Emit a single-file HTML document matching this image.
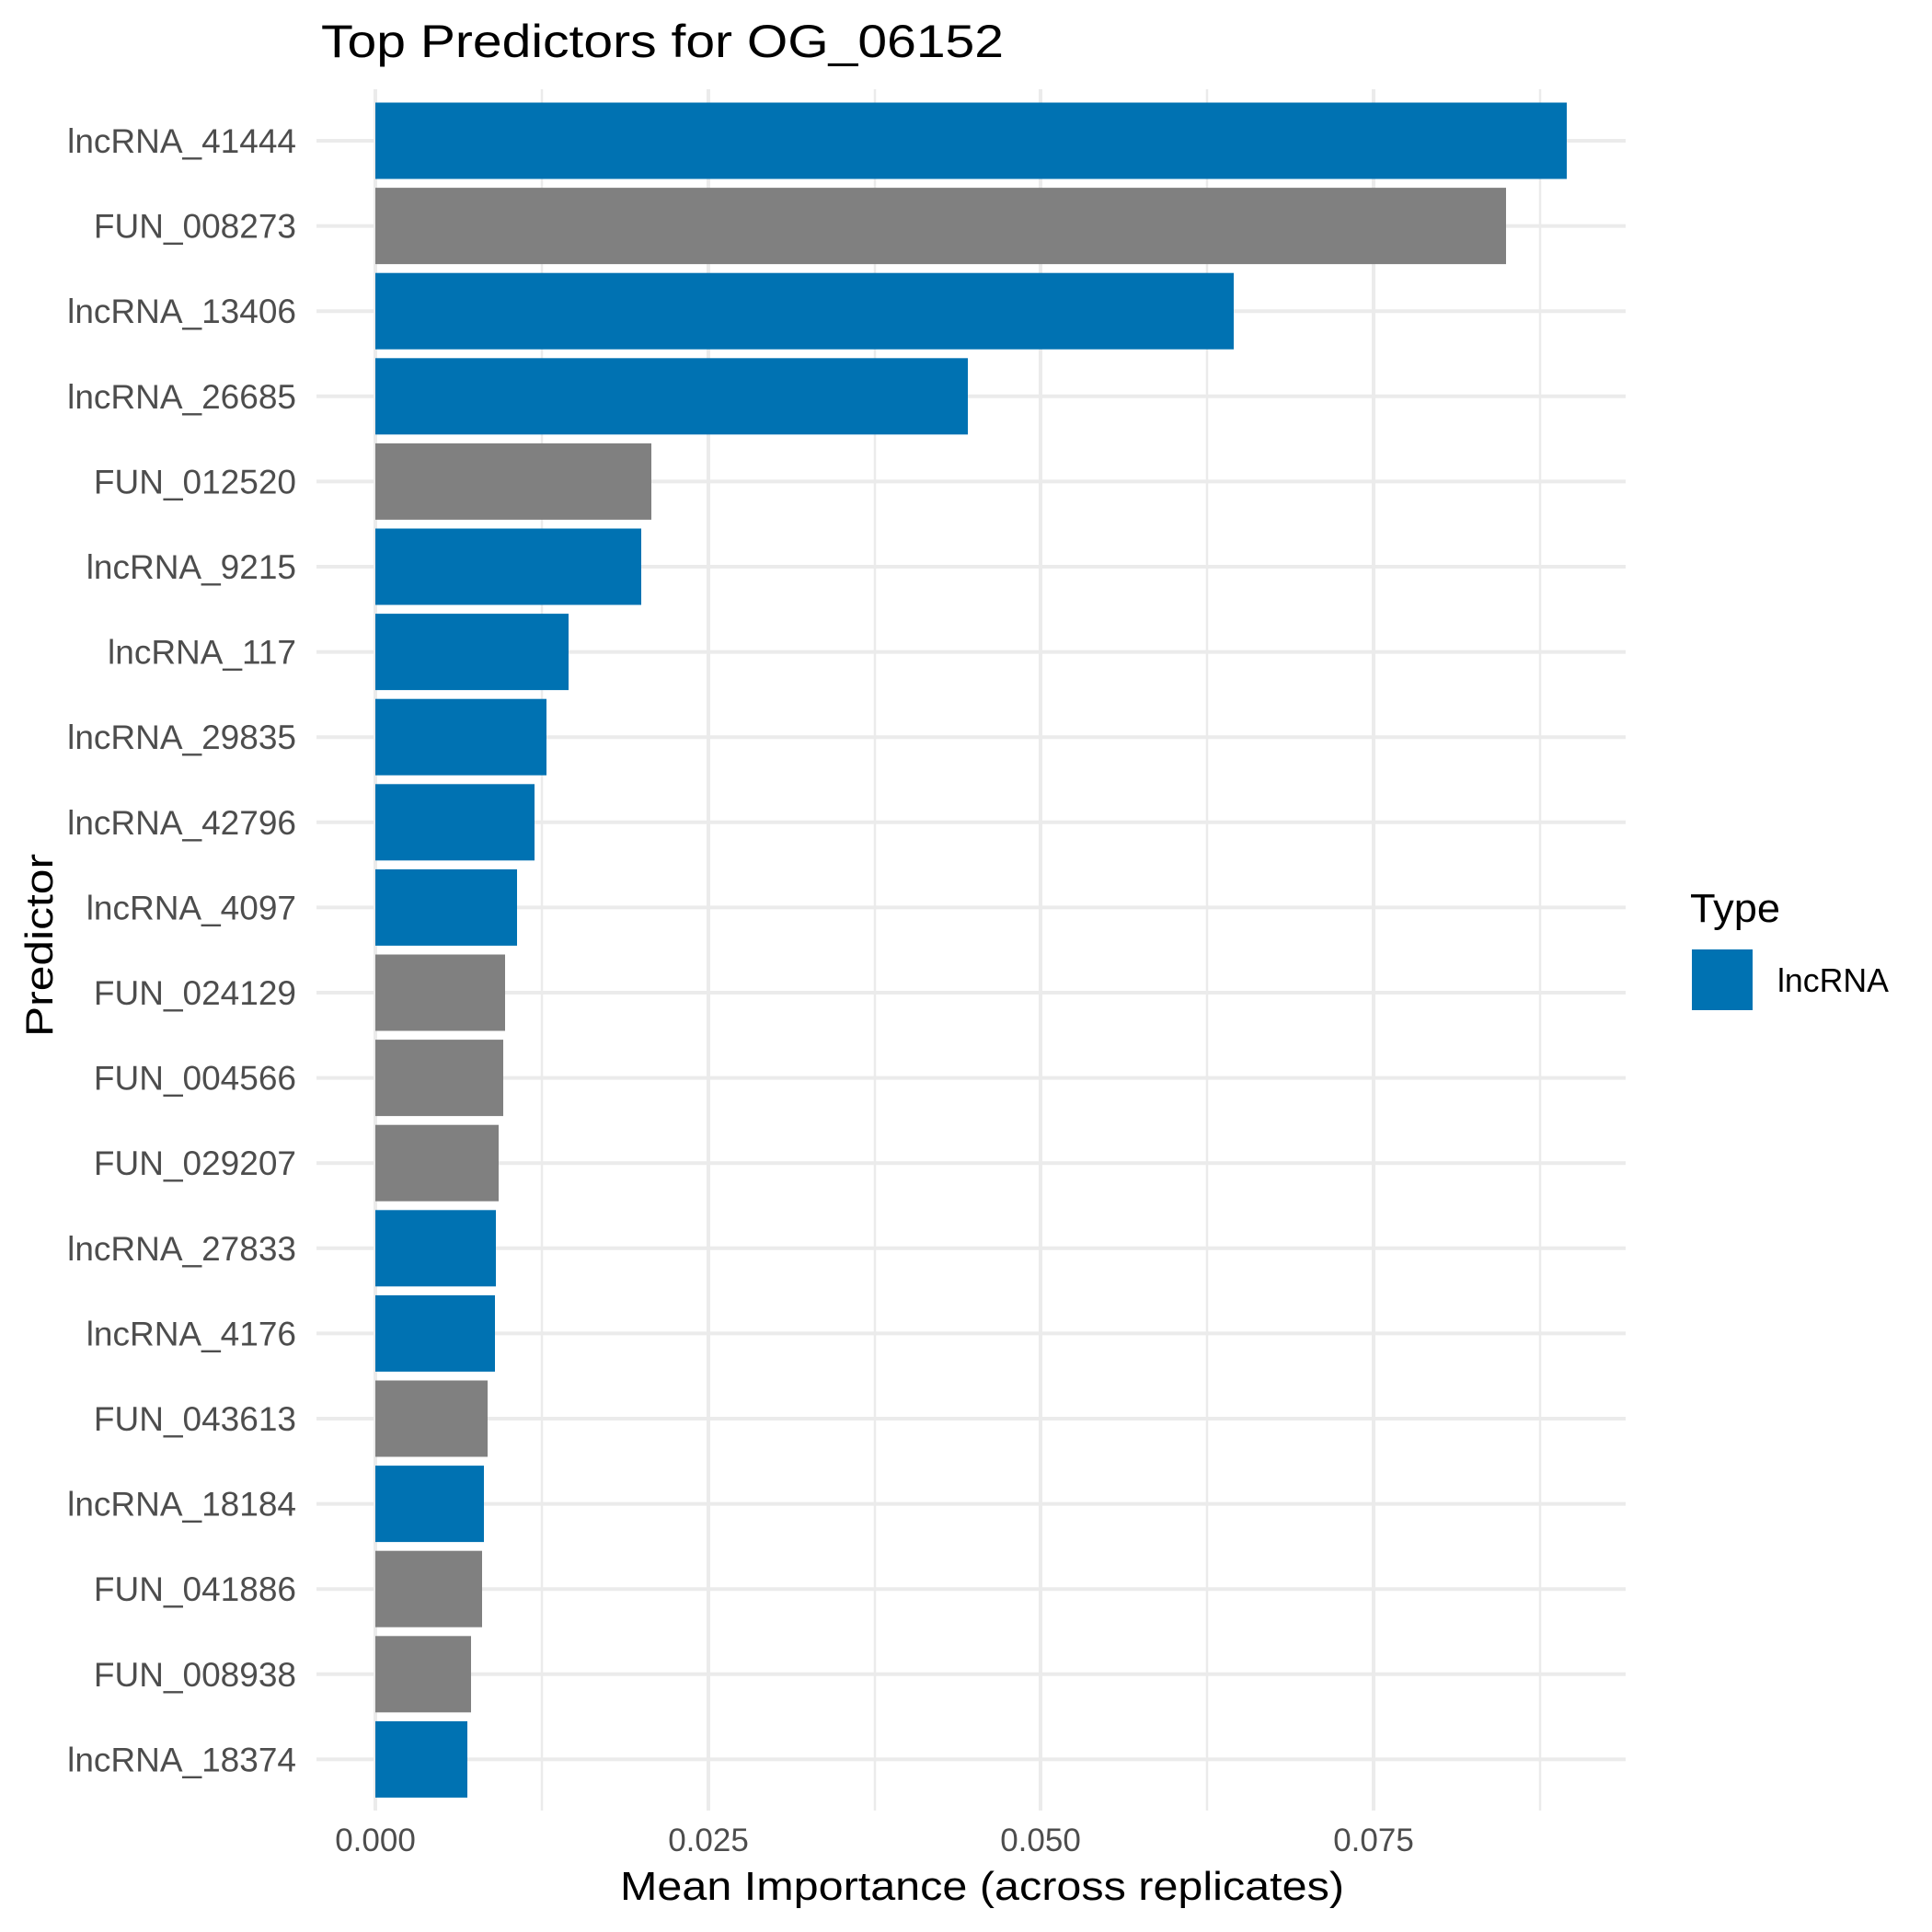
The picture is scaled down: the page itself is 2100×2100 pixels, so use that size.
<!DOCTYPE html>
<html><head><meta charset="utf-8"><style>html,body{margin:0;padding:0;background:#fff}svg{display:block}</style></head>
<body>
<svg xmlns="http://www.w3.org/2000/svg" width="2100" height="2100" viewBox="0 0 2100 2100" font-family="'Liberation Sans', 'DejaVu Sans', sans-serif">
<rect width="2100" height="2100" fill="#fff"/>
<g stroke="#EBEBEB">
<g stroke-width="2.5">
<line x1="589" y1="97" x2="589" y2="1968"/>
<line x1="951" y1="97" x2="951" y2="1968"/>
<line x1="1312" y1="97" x2="1312" y2="1968"/>
<line x1="1674" y1="97" x2="1674" y2="1968"/>
</g>
<g stroke-width="4">
<line x1="408" y1="97" x2="408" y2="1968"/>
<line x1="770" y1="97" x2="770" y2="1968"/>
<line x1="1131" y1="97" x2="1131" y2="1968"/>
<line x1="1493" y1="97" x2="1493" y2="1968"/>
</g>
<g stroke-width="4" id="hg"></g>
</g>
<g id="bars"></g>
<g id="labels" font-size="37" fill="#4D4D4D" text-anchor="end"></g>
<g font-size="35" fill="#4D4D4D" text-anchor="middle">
<text x="408" y="2012">0.000</text>
<text x="770" y="2012">0.025</text>
<text x="1131" y="2012">0.050</text>
<text x="1493" y="2012">0.075</text>
</g>
<text x="349" y="62" font-size="50" textLength="742" lengthAdjust="spacingAndGlyphs">Top Predictors for OG_06152</text>
<text x="674" y="2065" font-size="44" textLength="787" lengthAdjust="spacingAndGlyphs">Mean Importance (across replicates)</text>
<text transform="translate(57,1127) rotate(-90)" font-size="42" textLength="199" lengthAdjust="spacingAndGlyphs">Predictor</text>
<text x="1837" y="1002" font-size="44" textLength="98" lengthAdjust="spacingAndGlyphs">Type</text>
<rect x="1839" y="1032" width="66" height="66" fill="#0072B2"/>
<text x="1932" y="1078" font-size="36" textLength="121" lengthAdjust="spacingAndGlyphs">lncRNA</text>
<script>
var d=[["lncRNA_41444",1703],["FUN_008273",1637],["lncRNA_13406",1341],["lncRNA_26685",1052],["FUN_012520",708],["lncRNA_9215",697],["lncRNA_117",618],["lncRNA_29835",594],["lncRNA_42796",581],["lncRNA_4097",562],["FUN_024129",549],["FUN_004566",547],["FUN_029207",542],["lncRNA_27833",539],["lncRNA_4176",538],["FUN_043613",530],["lncRNA_18184",526],["FUN_041886",524],["FUN_008938",512],["lncRNA_18374",508]];
var ns="http://www.w3.org/2000/svg",hg=document.getElementById("hg"),b=document.getElementById("bars"),l=document.getElementById("labels");
d.forEach(function(r,i){var c=153+92.6*i;
var ln=document.createElementNS(ns,"line");ln.setAttribute("x1",344);ln.setAttribute("x2",1767);ln.setAttribute("y1",c);ln.setAttribute("y2",c);hg.appendChild(ln);
var re=document.createElementNS(ns,"rect");re.setAttribute("x",408);re.setAttribute("y",c-41.5);re.setAttribute("width",r[1]-408);re.setAttribute("height",83);re.setAttribute("fill",r[0][0]=="F"?"#808080":"#0072B2");b.appendChild(re);
var t=document.createElementNS(ns,"text");t.setAttribute("x",322);t.setAttribute("y",c+13);t.textContent=r[0];l.appendChild(t);});
</script>
</svg>
</body></html>
